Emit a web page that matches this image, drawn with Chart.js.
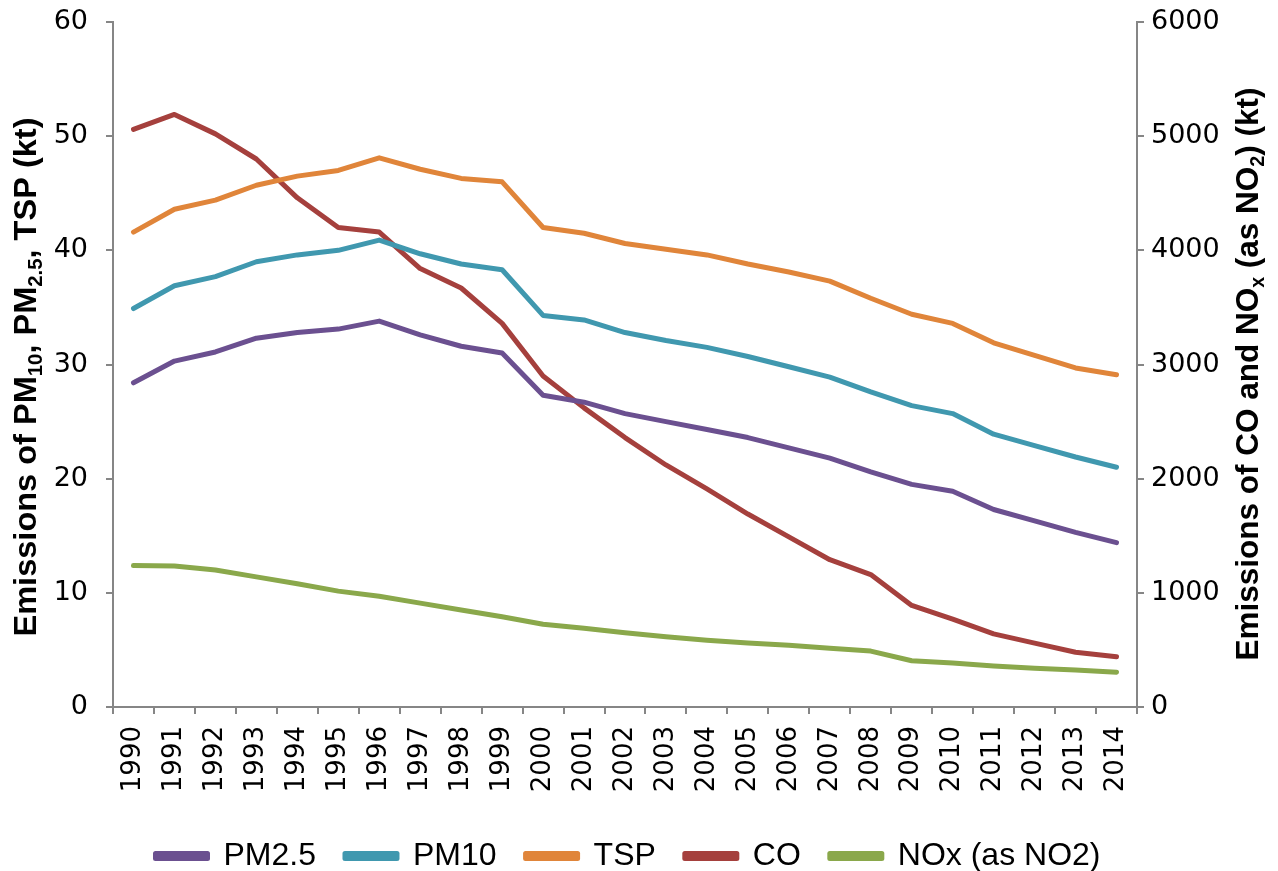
<!DOCTYPE html>
<html>
<head>
<meta charset="utf-8">
<script src="https://cdn.jsdelivr.net/npm/chart.js@4.4.1/dist/chart.umd.min.js"></script>
<style>
  html, body { margin: 0; padding: 0; background: #fff; }
  canvas { display: block; }
</style>
</head>
<body>
<canvas id="myChart" width="1278" height="871"></canvas>
<script>
const years = ['1990','1991','1992','1993','1994','1995','1996','1997','1998','1999','2000','2001','2002','2003','2004','2005','2006','2007','2008','2009','2010','2011','2012','2013','2014'];

// left axis (kt)
const pm25 = [28.4, 30.3, 31.1, 32.3, 32.8, 33.1, 33.8, 32.6, 31.6, 31.0, 27.3, 26.7, 25.7, 25.0, 24.3, 23.6, 22.7, 21.8, 20.6, 19.5, 18.9, 17.3, 16.3, 15.3, 14.4];
const pm10 = [34.9, 36.9, 37.7, 39.0, 39.6, 40.0, 40.9, 39.7, 38.8, 38.3, 34.3, 33.9, 32.8, 32.1, 31.5, 30.7, 29.8, 28.9, 27.6, 26.4, 25.7, 23.9, 22.9, 21.9, 21.0];
const tsp  = [41.6, 43.6, 44.4, 45.7, 46.5, 47.0, 48.1, 47.1, 46.3, 46.0, 42.0, 41.5, 40.6, 40.1, 39.6, 38.8, 38.1, 37.3, 35.8, 34.4, 33.6, 31.9, 30.8, 29.7, 29.1];

// right axis (kt)
const co  = [5060, 5190, 5020, 4800, 4460, 4200, 4160, 3840, 3670, 3360, 2900, 2620, 2360, 2120, 1910, 1690, 1490, 1290, 1160, 890, 770, 640, 560, 480, 440];
const nox = [1240, 1235, 1200, 1140, 1080, 1015, 970, 910, 850, 790, 725, 690, 650, 615, 585, 560, 540, 515, 490, 405, 385, 360, 340, 325, 305];

const leftTitle = [
  {t: 'Emissions of PM'}, {t: '10', sub: true}, {t: ', PM'}, {t: '2.5', sub: true}, {t: ', TSP (kt)'}
];
const rightTitle = [
  {t: 'Emissions of CO and NO'}, {t: 'x', sub: true}, {t: ' (as NO'}, {t: '2', sub: true}, {t: ') (kt)'}
];

const axisGray = '#868686';
const fontName = '"Liberation Sans", Arial, sans-serif';
const yTickFont = { family: '"DejaVu Sans", sans-serif', size: 27 };
const xTickFont = { family: '"DejaVu Sans", sans-serif', size: 26 };

function drawTitle (ctx, parts, cx, cy, len) {
  const big = 'bold 32px ' + fontName;
  const small = 'bold 20px ' + fontName;
  ctx.save();
  let total = 0;
  for (let p of parts) {
    ctx.font = p.sub ? small : big;
    p.w = ctx.measureText(p.t).width;
    total += p.w;
  }
  ctx.translate(cx, cy);
  ctx.rotate(-Math.PI / 2);
  ctx.scale(len / total, 1);
  ctx.fillStyle = '#000';
  ctx.textBaseline = 'middle';
  let x = -total / 2;
  for (let p of parts) {
    ctx.font = p.sub ? small : big;
    ctx.fillText(p.t, x, p.sub ? 9 : 0);
    x += p.w;
  }
  ctx.restore();
}

const titlePlugin = {
  id: 'axisTitles',
  afterDraw (chart) {
    drawTitle(chart.ctx, leftTitle, 27, 377, 519);
    drawTitle(chart.ctx, rightTitle, 1249, 374, 573);
  }
};

function line (label, data, color, axis) {
  return {
    label: label,
    data: data,
    yAxisID: axis,
    borderColor: color,
    backgroundColor: color,
    borderWidth: 5,
    pointRadius: 0,
    tension: 0,
    borderJoinStyle: 'round',
    borderCapStyle: 'round'
  };
}

const ctx = document.getElementById('myChart');

new Chart(ctx, {
  type: 'line',
  data: {
    labels: years,
    datasets: [
      line('PM2.5', pm25, '#6B5090', 'y'),
      line('PM10', pm10, '#4098AF', 'y'),
      line('TSP', tsp, '#E0853A', 'y'),
      line('CO', co, '#A5403D', 'y2'),
      line('NOx (as NO2)', nox, '#8AA84B', 'y2')
    ]
  },
  options: {
    responsive: false,
    animation: false,
    layout: { padding: { top: 22, bottom: -11, left: 0, right: 22 } },
    plugins: {
      tooltip: { enabled: false },
      legend: {
        position: 'bottom',
        labels: {
          boxWidth: 52,
          boxHeight: 5,
          padding: 29,
          color: '#000',
          font: { family: fontName, size: 32 }
        }
      }
    },
    scales: {
      x: {
        offset: true,
        grid: { offset: true, drawOnChartArea: false, drawTicks: true, tickLength: 7, color: axisGray, lineWidth: 2 },
        border: { display: true, color: axisGray, width: 2 },
        ticks: {
          color: '#000',
          font: xTickFont,
          minRotation: 90,
          maxRotation: 90,
          autoSkip: false,
          padding: 12
        },
        afterFit (scale) { scale.height = 104; }
      },
      y: {
        position: 'left',
        min: 0,
        max: 60,
        grid: { drawOnChartArea: false, drawTicks: true, tickLength: 7, color: axisGray, lineWidth: 2 },
        border: { display: true, color: axisGray, width: 2 },
        ticks: { stepSize: 10, color: '#000', font: yTickFont, padding: 18 },
        afterFit (scale) {
          scale.width = 113;
          scale.paddingTop = 12;
          scale.paddingBottom = 12;
        }
      },
      y2: {
        position: 'right',
        min: 0,
        max: 6000,
        grid: { drawOnChartArea: false, drawTicks: true, tickLength: 7, color: axisGray, lineWidth: 2 },
        border: { display: true, color: axisGray, width: 2 },
        ticks: {
          stepSize: 1000,
          color: '#000',
          font: yTickFont,
          padding: 7,
          callback: (v) => String(v)
        },
        afterFit (scale) {
          scale.width = 119;
          scale.paddingTop = 12;
          scale.paddingBottom = 12;
        }
      }
    }
  },
  plugins: [titlePlugin]
});
</script>
</body>
</html>
